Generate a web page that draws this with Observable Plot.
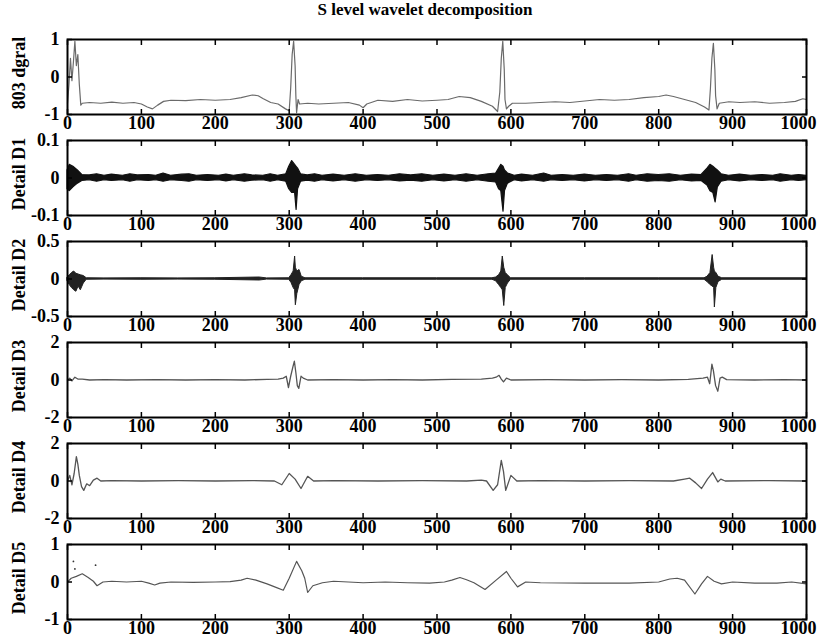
<!DOCTYPE html>
<html><head><meta charset="utf-8">
<script src="https://cdn.jsdelivr.net/npm/d3@7"></script>
<script src="https://cdn.jsdelivr.net/npm/@observablehq/plot@0.6"></script>
<style>
body{margin:0;background:#fff;width:817px;overflow:hidden;}
#title{height:32px;line-height:30px;padding-left:33px;text-align:center;font:bold 17px "Liberation Serif",serif;color:#000;}
svg{display:block;overflow:visible}
</style></head><body>
<div id="title">S level wavelet decomposition</div>
<div id="chart"></div>
<script>
const xTicks = [0,100,200,300,400,500,600,700,800,900,1000];
const labels = ["803 dgral","Detail D1","Detail D2","Detail D3","Detail D4","Detail D5"];
const yDomains = [[-1,1],[-0.1,0.1],[-0.5,0.5],[-2,2],[-2,2],[-1,1]];
const yTicks = [[-1,0,1],[-0.1,0,0.1],[-0.5,0,0.5],[-2,0,2],[-2,0,2],[-1,0,1]];

// original signal [x, y]
const signal = [[0,-0.7],[2,-0.2],[4,0.5],[6,-0.1],[8,0.4],[10,0.95],[12,0.3],[14,0.6],[16,-0.2],[18,-0.75],[20,-0.7],[30,-0.68],[45,-0.7],[60,-0.67],[75,-0.7],[90,-0.68],[100,-0.72],[108,-0.8],[115,-0.85],[122,-0.75],[130,-0.65],[140,-0.62],[160,-0.63],[180,-0.6],[200,-0.62],[220,-0.6],[235,-0.55],[250,-0.48],[258,-0.5],[265,-0.58],[275,-0.68],[285,-0.72],[295,-0.85],[300,-0.9],[302,-0.3],[304,0.6],[306,0.95],[308,0.3],[309,-0.5],[310,-0.95],[312,-0.6],[314,-0.72],[325,-0.7],[340,-0.72],[360,-0.7],[380,-0.68],[395,-0.75],[400,-0.82],[405,-0.72],[420,-0.62],[440,-0.65],[460,-0.6],[480,-0.64],[500,-0.62],[515,-0.6],[530,-0.52],[545,-0.55],[560,-0.65],[575,-0.78],[582,-0.92],[585,-0.4],[587,0.5],[589,0.95],[591,0.2],[592,-0.6],[594,-0.85],[597,-0.78],[602,-0.7],[620,-0.7],[640,-0.68],[660,-0.66],[680,-0.68],[700,-0.64],[720,-0.6],[740,-0.62],[760,-0.6],[780,-0.55],[800,-0.52],[810,-0.48],[820,-0.52],[835,-0.6],[850,-0.68],[862,-0.8],[868,-0.88],[870,-0.3],[872,0.5],[874,0.9],[876,0.2],[877,-0.5],[879,-0.85],[882,-0.7],[895,-0.66],[910,-0.68],[930,-0.66],[950,-0.7],[970,-0.68],[985,-0.65],[995,-0.58],[1000,-0.6]];

// detail D1 envelope [x, low, high]
const d1 = [[0,-0.03,0.02],[3,-0.035,0.035],[8,-0.025,0.03],[14,-0.015,0.02],[20,-0.008,0.008],[30,-0.006,0.007],[40,-0.01,0.01],[50,-0.006,0.006],[60,-0.008,0.009],[75,-0.006,0.006],[85,-0.01,0.01],[95,-0.006,0.007],[110,-0.008,0.008],[120,-0.006,0.006],[130,-0.01,0.012],[140,-0.006,0.006],[155,-0.008,0.009],[165,-0.01,0.01],[175,-0.006,0.006],[190,-0.008,0.008],[205,-0.006,0.006],[215,-0.009,0.009],[225,-0.006,0.006],[240,-0.01,0.01],[250,-0.007,0.007],[265,-0.006,0.006],[275,-0.01,0.01],[285,-0.006,0.006],[296,-0.01,0.01],[300,-0.03,0.03],[304,-0.04,0.045],[308,-0.04,0.035],[310,-0.085,0.03],[312,-0.03,0.025],[316,-0.01,0.01],[325,-0.007,0.007],[335,-0.01,0.01],[345,-0.006,0.006],[360,-0.009,0.009],[375,-0.006,0.006],[390,-0.01,0.01],[405,-0.006,0.006],[420,-0.008,0.008],[435,-0.006,0.006],[450,-0.009,0.01],[465,-0.007,0.007],[480,-0.01,0.01],[495,-0.006,0.006],[510,-0.009,0.009],[525,-0.006,0.006],[540,-0.01,0.01],[555,-0.006,0.006],[570,-0.01,0.01],[580,-0.012,0.012],[584,-0.03,0.025],[587,-0.035,0.035],[590,-0.09,0.03],[592,-0.035,0.02],[596,-0.015,0.012],[605,-0.006,0.006],[615,-0.009,0.009],[630,-0.006,0.006],[645,-0.01,0.012],[655,-0.006,0.006],[670,-0.008,0.008],[685,-0.006,0.006],[700,-0.009,0.009],[715,-0.006,0.006],[730,-0.008,0.008],[745,-0.006,0.006],[760,-0.01,0.01],[770,-0.006,0.006],[785,-0.01,0.01],[800,-0.008,0.008],[815,-0.01,0.01],[830,-0.006,0.006],[845,-0.009,0.009],[858,-0.008,0.008],[866,-0.02,0.025],[870,-0.035,0.035],[874,-0.04,0.03],[877,-0.065,0.025],[880,-0.025,0.02],[885,-0.01,0.01],[895,-0.006,0.006],[910,-0.009,0.009],[925,-0.006,0.006],[940,-0.008,0.008],[955,-0.006,0.006],[965,-0.01,0.01],[980,-0.006,0.006],[990,-0.008,0.008],[1000,-0.006,0.006]];

// detail D2 envelope [x, low, high]
const d2 = [[0,-0.03,0.02],[3,-0.08,0.05],[6,-0.12,0.08],[9,-0.15,0.1],[12,-0.17,0.07],[15,-0.1,0.06],[18,-0.15,0.05],[22,-0.06,0.04],[26,-0.01,0.01],[50,-0.008,0.008],[100,-0.01,0.01],[150,-0.008,0.008],[200,-0.01,0.01],[260,-0.02,0.02],[270,-0.008,0.008],[300,-0.01,0.01],[303,-0.05,0.05],[306,-0.12,0.1],[308,-0.15,0.3],[309,-0.35,0.15],[311,-0.2,0.1],[314,-0.08,0.12],[317,-0.03,0.03],[322,-0.01,0.01],[400,-0.01,0.01],[500,-0.01,0.01],[575,-0.01,0.01],[580,-0.03,0.02],[584,-0.08,0.05],[587,-0.12,0.1],[589,-0.15,0.3],[591,-0.36,0.15],[593,-0.12,0.08],[596,-0.06,0.05],[600,-0.01,0.01],[700,-0.01,0.01],[800,-0.01,0.01],[862,-0.01,0.01],[866,-0.04,0.03],[870,-0.08,0.08],[873,-0.1,0.32],[875,-0.12,0.15],[876,-0.38,0.1],[878,-0.12,0.08],[881,-0.04,0.03],[886,-0.01,0.01],[1000,-0.01,0.01]];

// detail D3 [x, y]
const d3 = [[0,0],[3,0.1],[6,-0.05],[10,0.15],[14,0.05],[20,0.05],[30,0],[50,0.02],[80,0],[120,0.02],[160,0],[200,0.02],[240,0],[270,0.03],[285,0.05],[292,0.1],[296,0.2],[299,-0.4],[302,0.2],[305,0.7],[307,1.0],[309,0.4],[311,-0.3],[313,-0.45],[316,0.2],[319,0.1],[325,0],[360,0.02],[400,0],[440,0.02],[480,0],[520,0.03],[560,0.05],[575,0.1],[580,0.15],[584,0.25],[587,0.05],[590,-0.1],[594,0.1],[600,0],[650,0.02],[700,0],[750,0.02],[800,0],[840,0.03],[860,0.1],[866,0.15],[869,-0.2],[872,0.85],[874,0.5],[877,-0.3],[880,-0.6],[883,0.1],[886,0.15],[892,0.02],[930,0],[970,0.02],[1000,0]];

// detail D4 [x, y]
const d4 = [[0,0],[3,0.3],[6,-0.2],[9,0.4],[12,1.3],[14,0.9],[16,0.3],[19,-0.3],[22,-0.5],[26,-0.15],[30,-0.25],[35,0.05],[40,0.15],[45,0],[60,0.02],[100,0],[150,0.02],[200,0],[250,0.02],[280,0],[290,-0.2],[300,0.4],[308,0.1],[316,-0.4],[325,0.25],[333,0],[360,0.02],[420,0],[480,0.02],[540,0],[560,0.05],[567,0],[576,-0.5],[582,-0.2],[587,1.1],[590,0.5],[593,-0.5],[600,0.3],[608,0],[640,0.02],[700,0],[760,0.02],[820,0],[835,0.1],[842,0.15],[850,-0.1],[858,-0.4],[866,0.1],[873,0.45],[880,-0.05],[884,0.1],[890,0],[950,0.02],[1000,0]];

// detail D5 [x, y]
const d5 = [[0,0],[5,0.1],[12,0.15],[20,0.22],[28,0.12],[35,0.02],[40,-0.1],[48,0],[60,0.02],[80,0],[100,0.02],[110,-0.03],[118,-0.08],[125,-0.03],[140,0],[170,-0.01],[200,0],[220,0.01],[235,0.05],[243,0.1],[255,0.05],[270,-0.05],[283,-0.15],[292,-0.22],[300,0.1],[310,0.55],[317,0.3],[321,0.1],[325,-0.28],[332,-0.1],[345,-0.02],[360,0.02],[380,0],[400,-0.02],[430,0],[460,-0.02],[490,-0.03],[510,0],[520,0.05],[531,0.12],[540,0.06],[550,-0.02],[565,-0.2],[580,0.05],[594,0.28],[600,0.1],[609,-0.13],[620,0],[640,-0.02],[700,-0.03],[760,-0.03],[800,0],[815,0.08],[825,0.1],[835,0.05],[849,-0.32],[858,-0.05],[866,0.15],[875,0.02],[885,-0.05],[900,0],[930,-0.03],[960,-0.03],[980,0],[1000,-0.05]];
const d5Dots = [[8,0.55],[10,0.35],[38,0.45]];

const fx = d => d[0], fy = d => d[1];
const dataMarks = [
  [Plot.line(signal, {x: fx, y: fy, stroke: "#6a6a6a", strokeWidth: 1.2})],
  [Plot.areaY(d1, {x: fx, y1: d => d[1], y2: d => d[2], fill: "#111", stroke: "#111", strokeWidth: 1.2})],
  [Plot.areaY(d2, {x: fx, y1: d => d[1], y2: d => d[2], fill: "#222", stroke: "#222", strokeWidth: 1})],
  [Plot.line(d3, {x: fx, y: fy, stroke: "#555", strokeWidth: 1.3})],
  [Plot.line(d4, {x: fx, y: fy, stroke: "#555", strokeWidth: 1.3})],
  [Plot.line(d5, {x: fx, y: fy, stroke: "#555", strokeWidth: 1.2}), Plot.dot(d5Dots, {x: fx, y: fy, r: 0.9, fill: "#333"})]
];

const xMain = xTicks.filter(d => d < 1000);
const xLast = xTicks.filter(d => d >= 1000);
const chart = document.getElementById("chart");
for (let i = 0; i < labels.length; i++) {
  const fmt = d => String(d);
  const p = Plot.plot({
    width: 817, height: 101,
    marginLeft: 67, marginRight: 11, marginTop: 7, marginBottom: 19,
    style: {fontFamily: '"Liberation Serif", serif', fontSize: "18px", fontWeight: "bold", color: "#000", background: "#fff", overflow: "visible"},
    x: {domain: [0, 1000], label: null},
    y: {domain: yDomains[i], label: null},
    marks: [
      ...dataMarks[i],
      Plot.frame({stroke: "#000", strokeWidth: 2}),
      Plot.axisX(xTicks, {anchor: "bottom", tickSize: 5, dy: -5, tickFormat: () => "", label: null, strokeWidth: 1.5}),
      Plot.axisX(xTicks, {anchor: "top", tickSize: 5, dy: 5, tickFormat: () => "", label: null, strokeWidth: 1.5}),
      Plot.axisX(xMain, {anchor: "bottom", tickSize: 0, tickPadding: 2, tickFormat: fmt, label: null}),
      Plot.axisX(xLast, {anchor: "bottom", tickSize: 0, tickPadding: 2, tickFormat: fmt, label: null, textAnchor: "end", dx: 10}),
      Plot.axisY(yTicks[i], {anchor: "left", tickSize: 5, dx: 5, tickFormat: () => "", label: null, strokeWidth: 1.5}),
      Plot.axisY(yTicks[i], {anchor: "right", tickSize: 5, dx: -5, tickFormat: () => "", label: null, strokeWidth: 1.5}),
      Plot.axisY(yTicks[i], {anchor: "left", tickSize: 0, tickPadding: 8, tickFormat: fmt, label: null}),
      Plot.text([labels[i]], {frameAnchor: "left", textAnchor: "middle", text: d => d, rotate: -90, dx: -48, dy: -4, fontSize: 18, fontWeight: "bold"})
    ]
  });
  chart.appendChild(p);
}
</script>
</body></html>
